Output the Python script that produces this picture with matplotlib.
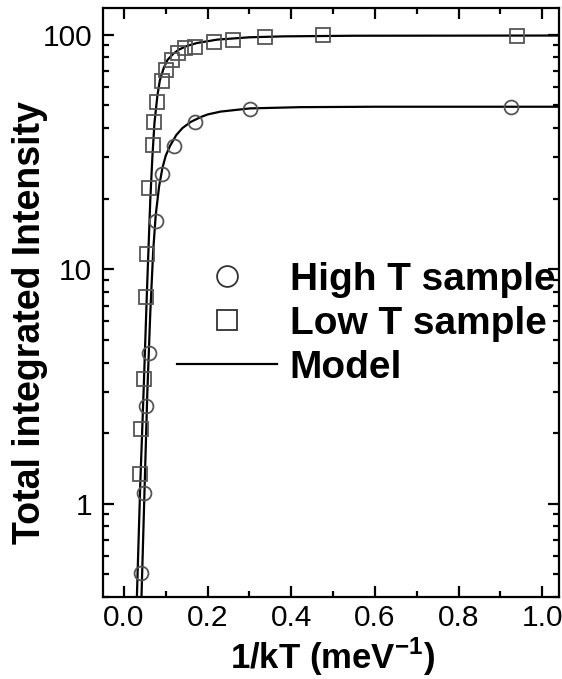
import matplotlib
matplotlib.use("Agg")
import matplotlib.pyplot as plt
from matplotlib.ticker import LogLocator, NullFormatter, FixedLocator, FixedFormatter, MultipleLocator
from matplotlib.lines import Line2D

plt.rcParams['font.family'] = ['Liberation Sans', 'DejaVu Sans']
plt.rcParams['mathtext.fontset'] = 'custom'
plt.rcParams['mathtext.rm'] = 'Liberation Sans'
plt.rcParams['mathtext.bf'] = 'Liberation Sans:bold'

# Data
high_x = [0.042, 0.047, 0.052, 0.060, 0.076, 0.090, 0.119, 0.169, 0.301, 0.925]
high_y = [0.505, 1.11, 2.6, 4.39, 16.1, 25.4, 33.4, 42.5, 48.3, 49.4]

low_x = [0.039, 0.042, 0.047, 0.052, 0.055, 0.060, 0.069, 0.073, 0.079, 0.090,
         0.101, 0.116, 0.130, 0.146, 0.169, 0.215, 0.260, 0.338, 0.477, 0.940]
low_y = [1.34, 2.08, 3.40, 7.6, 11.6, 22.3, 33.9, 42.6, 51.4, 63.6,
         70.8, 77.8, 83.5, 87.5, 88.8, 92.7, 95.0, 97.6, 99.5, 99.2]

model_low_x = [0.031, 0.039, 0.047, 0.055, 0.063, 0.068, 0.073, 0.080, 0.086, 0.095,
               0.104, 0.118, 0.132, 0.150, 0.175, 0.223, 0.300, 0.381, 0.550, 1.04]
model_low_y = [0.40, 1.2, 3.0, 8.0, 19.7, 30, 42, 55, 64, 72,
               78, 83, 86.5, 89.5, 92.2, 95.3, 97.5, 98.4, 99.0, 99.2]

model_high_x = [0.042, 0.049, 0.056, 0.063, 0.070, 0.076, 0.084, 0.092, 0.100, 0.110,
                0.125, 0.140, 0.160, 0.183, 0.200, 0.231, 0.301, 0.421, 0.600, 1.04]
model_high_y = [0.40, 1.1, 3.0, 6.5, 12, 17, 22.5, 27, 30.5, 33.5,
                37.3, 40, 42.5, 44.5, 45.7, 47, 48.5, 49.1, 49.3, 49.3]

x_ticks = [0.0, 0.2, 0.4, 0.6, 0.8, 1.0]
x_ticklabels = ['0.0', '0.2', '0.4', '0.6', '0.8', '1.0']
y_ticks = [1, 10, 100]
y_ticklabels = ['1', '10', '100']
legend_labels = ['High T sample', 'Low T sample', 'Model']

fig = plt.figure(figsize=(5.62, 6.79), dpi=100)
ax = fig.add_axes([103/562, 1 - 597/679, (559 - 103)/562, (597 - 8)/679])

mk_color = '#555555'
ax.plot(model_high_x, model_high_y, color='black', lw=1.6, zorder=2)
ax.plot(model_low_x, model_low_y, color='black', lw=1.6, zorder=2)
ax.plot(high_x, high_y, linestyle='none', marker='o', ms=10, mfc='none',
        mec=mk_color, mew=1.3, zorder=3)
ax.plot(low_x, low_y, linestyle='none', marker='s', ms=9.5, mfc='none',
        mec=mk_color, mew=1.3, zorder=3)

ax.set_yscale('log')
ax.set_xlim(-0.05, 1.04)
ax.set_ylim(0.4, 130)

ax.xaxis.set_major_locator(FixedLocator(x_ticks))
ax.xaxis.set_major_formatter(FixedFormatter(x_ticklabels))
ax.xaxis.set_minor_locator(MultipleLocator(0.1))
ax.yaxis.set_major_locator(FixedLocator(y_ticks))
ax.yaxis.set_major_formatter(FixedFormatter(y_ticklabels))
ax.yaxis.set_minor_locator(LogLocator(base=10, subs=[2, 3, 4, 5, 6, 7, 8, 9]))
ax.yaxis.set_minor_formatter(NullFormatter())

ax.tick_params(which='both', direction='in', top=True, right=True, width=1.6)
ax.tick_params(which='major', length=8, labelsize=21.5)
ax.tick_params(axis='x', which='major', pad=5)
ax.tick_params(axis='y', which='major', pad=8)
ax.tick_params(which='minor', length=4.5)
for s in ax.spines.values():
    s.set_linewidth(1.6)

ax.set_xlabel('1/kT (meV$^{\\mathbf{-1}}$)', fontsize=25, fontweight='bold', va='baseline')
ax.xaxis.set_label_coords((333 - 103)/456, (597 - 669)/589)
ax.set_ylabel('Total integrated Intensity', fontsize=27, fontweight='bold', va='center')
ax.yaxis.set_label_coords((30 - 103)/456, (597 - 323)/589)

# Legend
handles = [
    Line2D([], [], linestyle='none', marker='o', ms=15, mfc='none', mec='#333333', mew=1.3),
    Line2D([], [], linestyle='none', marker='s', ms=14, mfc='none', mec='#333333', mew=1.3),
    Line2D([], [], color='black', lw=1.6),
]
ax.legend(handles, legend_labels, loc='upper left', bbox_to_anchor=((177 - 103)/456, 1 - (262 - 8)/589),
          frameon=False, prop={'weight': 'bold', 'size': 28}, handlelength=2.57,
          handletextpad=0.33, labelspacing=0.2, borderaxespad=0, borderpad=0)

fig.savefig('out.png', dpi=100)
